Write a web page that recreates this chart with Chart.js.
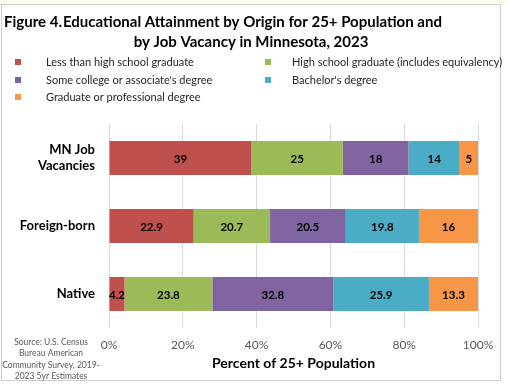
<!DOCTYPE html>
<html>
<head>
<meta charset="utf-8">
<script src="https://cdn.jsdelivr.net/npm/chart.js@4"></script>
<style>
  html, body { margin: 0; padding: 0; background: #ffffff; }
  #wrap { position: relative; width: 508px; height: 385px; }
</style>
</head>
<body>
<div id="wrap"><canvas id="c" width="508" height="385"></canvas></div>
<script>
// ---- data ----
const categories = [['MN Job', 'Vacancies'], 'Foreign-born', 'Native'];
const seriesNames = [
  'Less than high school graduate',
  'High school graduate (includes equivalency)',
  "Some college or associate's degree",
  "Bachelor's degree",
  'Graduate or professional degree'
];
const lessThanHS   = [39, 22.9, 4.2];
const highSchool   = [25, 20.7, 23.8];
const someCollege  = [18, 20.5, 32.8];
const bachelors    = [14, 19.8, 25.9];
const graduate     = [5, 16, 13.3];
const xTickLabels  = ['0%', '20%', '40%', '60%', '80%', '100%'];
const titleLine1a  = 'Figure 4.';
const titleLine1b  = 'Educational Attainment by Origin for 25+ Population and';
const titleLine2   = 'by Job Vacancy in Minnesota, 2023';
const axisTitle    = 'Percent of 25+ Population';
const sourceLines  = ['Source: U.S. Census', 'Bureau American', 'Community Survey, 2019-', '2023 5yr Estimates'];

const colors = ['#C0504D', '#9BBB59', '#8064A2', '#4BACC6', '#F79646'];
const rawSeries = [lessThanHS, highSchool, someCollege, bachelors, graduate];

// 100% stacked: share of each row total (as Excel does)
const totals = categories.map((_, i) => rawSeries.reduce((s, arr) => s + arr[i], 0));
const datasets = rawSeries.map((arr, k) => ({
  label: seriesNames[k],
  data: arr.map((v, i) => v / totals[i] * 100),
  raw: arr,
  backgroundColor: colors[k],
  borderWidth: 0,
  barPercentage: 0.5,
  categoryPercentage: 1.0
}));

const FONT = 'Lato, "Open Sans", sans-serif';

const decorPlugin = {
  id: 'decor',
  beforeDraw(chart) {
    const ctx = chart.ctx;
    ctx.save();
    ctx.fillStyle = '#ffffff';
    ctx.fillRect(0, 0, chart.width, chart.height);
    ctx.fillStyle = '#fdfde8';
    ctx.fillRect(0, 0, chart.width, 4);
    ctx.strokeStyle = '#d0d0d0';
    ctx.lineWidth = 1;
    ctx.strokeRect(1.5, 4.5, 499, 376);
    ctx.restore();
  },
  afterDraw(chart) {
    const ctx = chart.ctx;
    ctx.save();
    // title
    ctx.fillStyle = '#000000';
    ctx.textBaseline = 'middle';
    ctx.font = 'bold 15px ' + FONT;
    ctx.textAlign = 'left';
    ctx.fillText(titleLine1a, 4, 22);
    ctx.fillText(titleLine1b, 63, 22);
    ctx.textAlign = 'center';
    ctx.fillText(titleLine2, 251, 42);

    // legend
    ctx.font = '11px ' + FONT;
    ctx.textAlign = 'left';
    const pos = [[15, 46, 62], [265, 292, 62], [15, 46, 80], [265, 292, 80], [15, 46, 97]];
    chart.data.datasets.forEach((ds, k) => {
      const [sx, tx, y] = pos[k];
      ctx.fillStyle = ds.backgroundColor;
      ctx.fillRect(sx, y - 3, 6, 6);
      ctx.fillStyle = '#262626';
      ctx.fillText(ds.label, tx, y);
    });

    // data labels
    ctx.font = 'bold 11.5px ' + FONT;
    ctx.textAlign = 'center';
    ctx.fillStyle = '#000000';
    chart.data.datasets.forEach((ds, k) => {
      const meta = chart.getDatasetMeta(k);
      meta.data.forEach((bar, i) => {
        const cx = (bar.x + bar.base) / 2;
        ctx.fillText(String(ds.raw[i]), cx, bar.y + 1);
      });
    });

    // source
    ctx.font = '8.5px ' + FONT;
    ctx.fillStyle = '#595959';
    ctx.textAlign = 'center';
    sourceLines.forEach((t, i) => ctx.fillText(t, 51, 342 + i * 11.5));
    ctx.restore();
  }
};

new Chart(document.getElementById('c'), {
  type: 'bar',
  data: { labels: categories, datasets },
  options: {
    indexAxis: 'y',
    responsive: false,
    animation: false,
    layout: { padding: { top: 124, right: 30, bottom: 0, left: 0 } },
    plugins: { legend: { display: false }, tooltip: { enabled: false }, title: { display: false } },
    scales: {
      x: {
        stacked: true,
        min: 0, max: 100,
        ticks: {
          stepSize: 20,
          color: '#595959',
          font: { family: FONT, size: 12 },
          padding: 10,
          callback: (v, i) => xTickLabels[i]
        },
        grid: { color: '#d9d9d9', drawTicks: false },
        border: { display: false },
        title: {
          display: true,
          text: axisTitle,
          color: '#000000',
          font: { family: FONT, size: 14, weight: 'bold' },
          padding: { top: 0, bottom: 13 }
        },
        afterFit(scale) { scale.height = 57; }
      },
      y: {
        stacked: true,
        ticks: {
          color: '#000000',
          font: { family: FONT, size: 13, weight: 'bold' },
          padding: 14
        },
        grid: { display: false, drawTicks: false },
        border: { display: false },
        afterFit(scale) { scale.width = 109; }
      }
    }
  },
  plugins: [decorPlugin]
});
</script>
</body>
</html>
